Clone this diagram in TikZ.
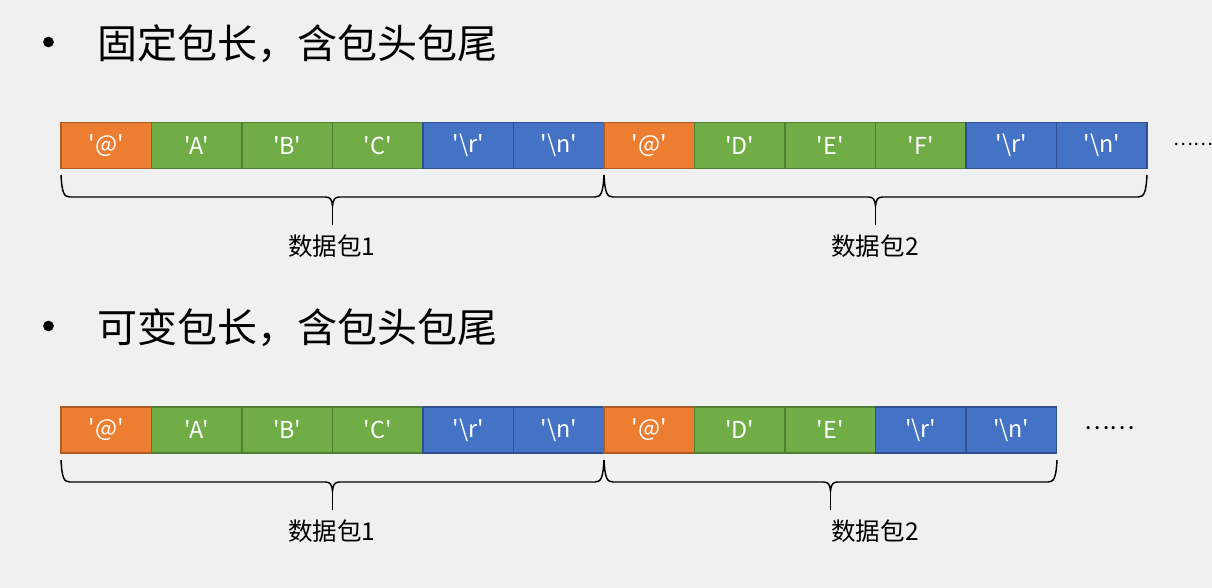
\documentclass[tikz,border=0pt]{standalone}
\usepackage{fontspec}
\setmainfont{Noto Sans CJK SC}
\newfontfamily\cjk{Noto Sans CJK SC}
\newfontfamily\boxfont[Ligatures=TeXOff]{Noto Sans CJK SC}
\definecolor{orf}{HTML}{ED7D31}\definecolor{ord}{HTML}{AE5A21}
\definecolor{grf}{HTML}{70AD47}\definecolor{grd}{HTML}{507E32}
\definecolor{blf}{HTML}{4472C4}\definecolor{bld}{HTML}{2F528F}
\definecolor{bgc}{HTML}{F0F0F0}
\newcommand\pkbrace[5]{% left x, right x, top y, line y, tip y
  \pgfmathsetmacro\xm{(#1+#2)/2}
  \draw[bracestyle] (#1,#3) .. controls (#1+1,#4-4) and (#1+3,#4) .. (#1+9,#4)
     -- (\xm-7,#4) .. controls (\xm-2,#4) and (\xm-0.5,#4+3) .. (\xm,#4+9)
     .. controls (\xm+0.5,#4+3) and (\xm+2,#4) .. (\xm+7,#4)
     -- (#2-9,#4) .. controls (#2-3,#4) and (#2-1,#4-4) .. (#2,#3);
  \draw[bracestyle] (\xm,#4+8) -- (\xm,#5);
}
\begin{document}
\begin{tikzpicture}[x=0.75pt,y=-0.75pt,
  cell/.style={minimum width=67.875pt, minimum height=34.5pt, inner sep=0pt, outer sep=0pt,
     text=white, font=\boxfont\fontsize{17.5}{20}\selectfont, line width=0.9pt, anchor=north west},
  hd/.style={cell, fill=orf, draw=ord},
  dt/.style={cell, fill=grf, draw=grd},
  tl/.style={cell, fill=blf, draw=bld},
  title/.style={anchor=west, inner sep=0pt, font=\cjk\fontsize{30}{34}\selectfont},
  lbl/.style={inner sep=0pt, font=\cjk\fontsize{18.4}{22}\selectfont},
  dots/.style={anchor=west, inner sep=0pt, font=\cjk\fontsize{18}{22}\selectfont},
  bracestyle/.style={line width=1.1pt, black},
  bullet/.style={circle, fill=black, inner sep=0pt, minimum size=8pt}]
\fill[bgc] (0,0) rectangle (1212,588);
\useasboundingbox (0,0) rectangle (1212,588);

% titles
\node[bullet] (b1) at (48.5,42) {};
\node[title] (t1) at (97,44) {固定包长，含包头包尾};
\node[bullet] (b2) at (48.5,326) {};
\node[title] (t2) at (97,328) {可变包长，含包头包尾};

% row 1
\foreach [count=\i from 0] \s/\t in {hd/{'@'},dt/{'A'},dt/{'B'},dt/{'C'},tl/{'\textbackslash r'},tl/{'\textbackslash n'},hd/{'@'},dt/{'D'},dt/{'E'},dt/{'F'},tl/{'\textbackslash r'},tl/{'\textbackslash n'}}
  \node[\s] (a\i) at ({61+90.5*\i},122.5) {\t};
\node[dots, font=\cjk\fontsize{14}{18}\selectfont] (d1) at (1173,144) {……};

% row 2
\foreach [count=\i from 0] \s/\t in {hd/{'@'},dt/{'A'},dt/{'B'},dt/{'C'},tl/{'\textbackslash r'},tl/{'\textbackslash n'},hd/{'@'},dt/{'D'},dt/{'E'},tl/{'\textbackslash r'},tl/{'\textbackslash n'}}
  \node[\s] (c\i) at ({61+90.5*\i},407) {\t};
\node[dots] (d2) at (1084,428) {……};

% braces
\pkbrace{61}{604}{175}{197}{225}
\pkbrace{604}{1147}{175}{197}{225}
\pkbrace{61}{604}{460}{482}{510}
\pkbrace{604}{1057}{460}{482}{510}

% labels
\node[lbl] (l1) at (332,246) {数据包1};
\node[lbl] (l2) at (875,246) {数据包2};
\node[lbl] (l3) at (332,531) {数据包1};
\node[lbl] (l4) at (875,531) {数据包2};
\end{tikzpicture}
\end{document}
